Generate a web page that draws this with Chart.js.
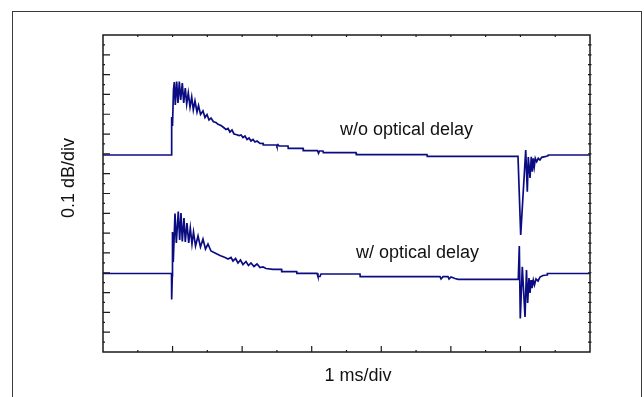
<!DOCTYPE html>
<html>
<head>
<meta charset="utf-8">
<script src="https://cdn.jsdelivr.net/npm/chart.js@4.4.1/dist/chart.umd.min.js"></script>
<style>
  html, body { margin: 0; padding: 0; background: #ffffff; }
  #wrap { position: relative; width: 644px; height: 397px; overflow: hidden; }
  canvas { display: block; }
</style>
</head>
<body>
<div id="wrap"><canvas id="c" width="644" height="397"></canvas></div>
<script>
// Time axis in ms (1 ms/div), amplitude axis in divisions (0.1 dB/div)
const xTitle = "1 ms/div";
const yTitle = "0.1 dB/div";
const upperLabel = "w/o optical delay";
const lowerLabel = "w/ optical delay";

// Trace without optical delay
const upperX = [0, 0.985, 0.987, 0.999, 1.013, 1.025, 1.039, 1.059, 1.078, 1.097, 1.117, 1.140, 1.160, 1.183, 1.203, 1.226, 1.251, 1.275, 1.298, 1.322, 1.351, 1.373, 1.402, 1.437, 1.466, 1.495, 1.524, 1.552, 1.588, 1.624, 1.653, 1.696, 1.725, 1.768, 1.797, 1.825, 1.854, 1.883, 1.912, 1.955, 1.984, 2.012, 2.041, 2.070, 2.099, 2.127, 2.156, 2.185, 2.214, 2.257, 2.300, 2.304, 2.497, 2.501, 2.515, 2.530, 2.659, 2.663, 2.875, 2.879, 3.083, 3.098, 3.112, 3.162, 3.167, 3.637, 3.641, 4.657, 4.661, 5.965, 6.004, 6.076, 6.099, 6.113, 6.138, 6.156, 6.171, 6.185, 6.199, 6.214, 6.234, 6.257, 6.281, 6.306, 6.353, 6.396, 6.401, 7];
const upperY = [9.943, 9.943, 11.861, 11.407, 13.224, 13.628, 12.467, 13.653, 12.568, 13.653, 12.719, 13.577, 12.568, 13.325, 12.517, 13.073, 12.366, 12.871, 12.215, 12.669, 12.114, 12.442, 11.987, 12.164, 11.836, 11.987, 11.710, 11.811, 11.624, 11.584, 11.493, 11.432, 11.356, 11.230, 11.281, 11.104, 11.205, 11.003, 10.978, 10.927, 10.953, 10.826, 10.902, 10.726, 10.801, 10.650, 10.726, 10.599, 10.650, 10.524, 10.534, 10.448, 10.448, 10.397, 10.463, 10.397, 10.397, 10.282, 10.282, 10.160, 10.160, 10.029, 10.145, 10.145, 10.059, 10.059, 9.958, 9.958, 9.878, 9.878, 5.905, 10.196, 8.091, 9.842, 8.782, 9.858, 9.100, 9.777, 9.353, 9.777, 9.605, 9.777, 9.691, 9.827, 9.858, 9.908, 9.943, 9.943];

// Trace with optical delay
const lowerX = [0, 0.985, 0.987, 0.996, 0.999, 1.010, 1.035, 1.054, 1.082, 1.102, 1.121, 1.140, 1.164, 1.183, 1.207, 1.232, 1.255, 1.279, 1.301, 1.330, 1.366, 1.401, 1.437, 1.473, 1.509, 1.552, 1.610, 1.682, 1.754, 1.797, 1.840, 1.869, 1.905, 1.940, 1.976, 2.012, 2.055, 2.091, 2.127, 2.170, 2.214, 2.257, 2.300, 2.343, 2.444, 2.566, 2.569, 2.784, 2.787, 3.076, 3.090, 3.119, 3.133, 3.694, 3.697, 4.844, 4.859, 4.887, 4.959, 4.974, 5.002, 5.060, 5.103, 5.969, 5.984, 5.998, 6.027, 6.066, 6.087, 6.104, 6.123, 6.138, 6.152, 6.166, 6.185, 6.202, 6.224, 6.253, 6.281, 6.324, 6.382, 6.387, 7];
const lowerY = [3.962, 3.962, 2.650, 3.836, 6.057, 4.543, 6.991, 5.502, 7.091, 5.653, 7.016, 5.577, 6.763, 5.552, 6.511, 5.502, 6.259, 5.451, 6.057, 5.350, 5.855, 5.300, 5.703, 5.199, 5.451, 5.098, 4.997, 4.871, 4.770, 4.694, 4.770, 4.593, 4.719, 4.492, 4.644, 4.416, 4.568, 4.366, 4.492, 4.316, 4.442, 4.265, 4.290, 4.215, 4.174, 4.174, 4.053, 4.053, 3.972, 3.972, 3.811, 3.811, 3.937, 3.937, 3.801, 3.801, 3.685, 3.801, 3.801, 3.685, 3.785, 3.710, 3.669, 3.669, 5.350, 1.691, 4.305, 1.767, 4.139, 2.473, 3.735, 2.978, 3.634, 3.230, 3.634, 3.382, 3.685, 3.584, 3.785, 3.861, 3.886, 3.962, 3.962];

// Axis extents (divisions)
const xRange = [0, 7];
const yRange = [0, 16];

const traceColor = '#0c0c82';
const textFont = '18px "Liberation Sans", Arial, sans-serif';

function pts(xs, ys) { return xs.map((x, i) => ({ x: x, y: ys[i] })); }

const framePlugin = {
  id: 'frame',
  beforeDraw(chart) {
    const ctx = chart.ctx;
    ctx.save();
    ctx.fillStyle = '#ffffff';
    ctx.fillRect(0, 0, chart.width, chart.height);
    ctx.strokeStyle = '#3a3a3a';
    ctx.lineWidth = 1;
    ctx.strokeRect(12.5, 11.5, 629, 420);
    ctx.restore();
  },
  afterDatasetsDraw(chart) {
    const ctx = chart.ctx;
    const xs = chart.scales.x, ys = chart.scales.y;
    const a = chart.chartArea;
    ctx.save();
    ctx.strokeStyle = '#1a1a1a';
    ctx.lineWidth = 1.5;
    ctx.strokeRect(a.left, a.top, a.right - a.left, a.bottom - a.top);
    ctx.lineWidth = 1.2;
    ctx.beginPath();
    // x ticks (major at each ms, minor at half)
    for (let v = xRange[0]; v <= xRange[1] + 1e-9; v += 0.5) {
      const px = xs.getPixelForValue(v);
      const major = Math.abs(v - Math.round(v)) < 1e-6;
      if (v > xRange[0] && v < xRange[1]) {
        ctx.moveTo(px, a.bottom);
        ctx.lineTo(px, a.bottom - (major ? 6 : 2));
        ctx.moveTo(px, a.top);
        ctx.lineTo(px, a.top + 2);
      }
    }
    // y ticks
    for (let v = yRange[0]; v <= yRange[1] + 1e-9; v += 0.5) {
      const py = ys.getPixelForValue(v);
      const major = Math.abs(v - Math.round(v)) < 1e-6;
      if (v > yRange[0] && v < yRange[1]) {
        ctx.moveTo(a.left, py);
        ctx.lineTo(a.left + (major ? 7 : 2), py);
        ctx.moveTo(a.right + 1.5, py);
        ctx.lineTo(a.right - 2, py);
      }
    }
    ctx.stroke();

    ctx.fillStyle = '#111111';
    ctx.font = textFont;
    ctx.textBaseline = 'middle';
    ctx.textAlign = 'left';
    ctx.fillText(upperLabel, 340, 130);
    ctx.fillText(lowerLabel, 356, 253);
    ctx.textAlign = 'center';
    ctx.fillText(xTitle, 358, 376);
    ctx.translate(69, 178);
    ctx.rotate(-Math.PI / 2);
    ctx.fillText(yTitle, 0, 0);
    ctx.restore();
  }
};

new Chart(document.getElementById('c'), {
  type: 'line',
  data: {
    datasets: [
      { label: upperLabel, data: pts(upperX, upperY), borderColor: traceColor, borderWidth: 1.7, pointRadius: 0, tension: 0, fill: false },
      { label: lowerLabel, data: pts(lowerX, lowerY), borderColor: traceColor, borderWidth: 1.7, pointRadius: 0, tension: 0, fill: false }
    ]
  },
  options: {
    responsive: false,
    devicePixelRatio: 1,
    animation: false,
    events: [],
    layout: { padding: { left: 103, top: 35, right: 54, bottom: 45 } },
    plugins: { legend: { display: false }, tooltip: { enabled: false }, title: { display: false } },
    scales: {
      x: { type: 'linear', min: xRange[0], max: xRange[1], display: false },
      y: { type: 'linear', min: yRange[0], max: yRange[1], display: false }
    }
  },
  plugins: [framePlugin]
});
</script>
</body>
</html>
